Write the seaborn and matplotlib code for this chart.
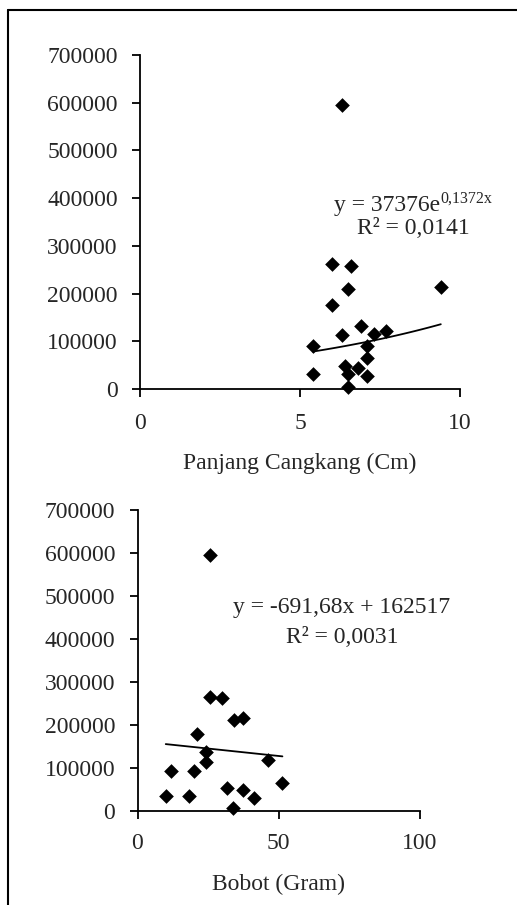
import matplotlib
matplotlib.use("Agg")
import matplotlib.pyplot as plt
from matplotlib.lines import Line2D
import numpy as np
import pandas as pd
import seaborn as sns

# ---- data ----
panjang = [6.30, 5.99, 6.59, 6.51, 9.40, 5.99, 6.90, 6.30, 7.31, 7.69,
           5.40, 7.10, 7.10, 6.41, 6.80, 5.40, 6.51, 7.10, 6.51]
jumlah_a = [595000, 262000, 258000, 209000, 214000, 176000, 131000, 113000, 116000, 122000,
            90000, 90000, 64000, 49000, 43000, 32000, 32000, 27000, 4000]

bobot = [25.7, 25.7, 29.8, 34.2, 37.2, 20.9, 24.2, 24.2, 46.3, 11.7,
         20.1, 51.3, 31.6, 37.5, 10.0, 18.3, 41.3, 33.7]
jumlah_b = [595000, 264000, 262000, 212000, 217000, 178000, 138000, 113000, 119000, 94000,
            94000, 66000, 53000, 49000, 36000, 35000, 30000, 6000]

# trend-line equations shown in the chart
exp_a, exp_b = 37376.0, 0.1372
lin_m, lin_c = -691.68, 162517.0

y_ticks = [0, 100000, 200000, 300000, 400000, 500000, 600000, 700000]
x_ticks_a = [0, 5, 10]
x_ticks_b = [0, 50, 100]
xlabel_a = "Panjang Cangkang (Cm)"
xlabel_b = "Bobot (Gram)"

sns.set_theme(style="white")
plt.rcParams['font.family'] = ['Liberation Serif', 'DejaVu Serif']

W, H = 517, 905
fig = plt.figure(figsize=(W / 100, H / 100), dpi=100)

def px_axes(l, r, t, b):
    return fig.add_axes([l / W, 1 - b / H, (r - l) / W, (b - t) / H])

ax1 = px_axes(140, 460, 55, 389)
ax2 = px_axes(137.5, 420, 510, 811)

FS = 17

def style(ax, xt, xlabel, xpad, lpad):
    ax.set_facecolor('white')
    for s in ['top', 'right']:
        ax.spines[s].set_visible(False)
    for s in ['left', 'bottom']:
        ax.spines[s].set_linewidth(1.3)
        ax.spines[s].set_color('black')
    ax.set_ylim(0, 700000)
    ax.set_yticks(y_ticks)
    ax.set_yticklabels([str(v) for v in y_ticks], fontsize=FS)
    ax.set_xlim(xt[0], xt[-1])
    ax.set_xticks(xt)
    ax.set_xticklabels([str(v) for v in xt], fontsize=FS)
    ax.tick_params(axis='both', direction='out', length=6, width=1.3, color='black',
                   left=True, bottom=True)
    ax.tick_params(axis='y', pad=10)
    ax.tick_params(axis='x', pad=xpad)
    ax.set_xlabel(xlabel, fontsize=FS, labelpad=lpad)
    ax.set_ylabel('')

df_a = pd.DataFrame({'x': panjang, 'y': jumlah_a})
df_b = pd.DataFrame({'x': bobot, 'y': jumlah_b})

sns.scatterplot(data=df_a, x='x', y='y', ax=ax1, marker='D', color='black',
                s=56, linewidth=0, zorder=3, clip_on=False)
xa = np.linspace(min(panjang), max(panjang), 50)
sns.lineplot(x=xa, y=exp_a * np.exp(exp_b * xa), ax=ax1, color='black', linewidth=1.3)

sns.scatterplot(data=df_b, x='x', y='y', ax=ax2, marker='D', color='black',
                s=56, linewidth=0, zorder=3, clip_on=False)
xb = np.array([min(bobot), max(bobot)])
sns.lineplot(x=xb, y=lin_m * xb + lin_c, ax=ax2, color='black', linewidth=1.3)

style(ax1, x_ticks_a, xlabel_a, 11, 14)
style(ax2, x_ticks_b, xlabel_b, 10, 14)

# equations
t1 = ax1.text(6.06, 374000, "y = 37376e", fontsize=FS, ha='left', va='baseline')
ax1.annotate("0,1372x", xy=(1, 0), xycoords=t1, xytext=(0.3, 6.5),
             textcoords='offset points', fontsize=11.5, ha='left', va='bottom')
ax1.text(8.54, 336000, "R² = 0,0141", fontsize=FS, ha='center', va='center')

ax2.text(72.4, 474000, "y = -691,68x + 162517", fontsize=FS, ha='center', va='center')
ax2.text(72.4, 404600, "R² = 0,0031", fontsize=FS, ha='center', va='center')

# outer frame (left and top lines)
fig.add_artist(Line2D([8 / W, 8 / W], [0, 1 - 10 / H], transform=fig.transFigure,
                      color='black', linewidth=1.5))
fig.add_artist(Line2D([8 / W, 1], [1 - 10 / H, 1 - 10 / H], transform=fig.transFigure,
                      color='black', linewidth=1.5))

fig.savefig("out.png", dpi=100, facecolor='white')
